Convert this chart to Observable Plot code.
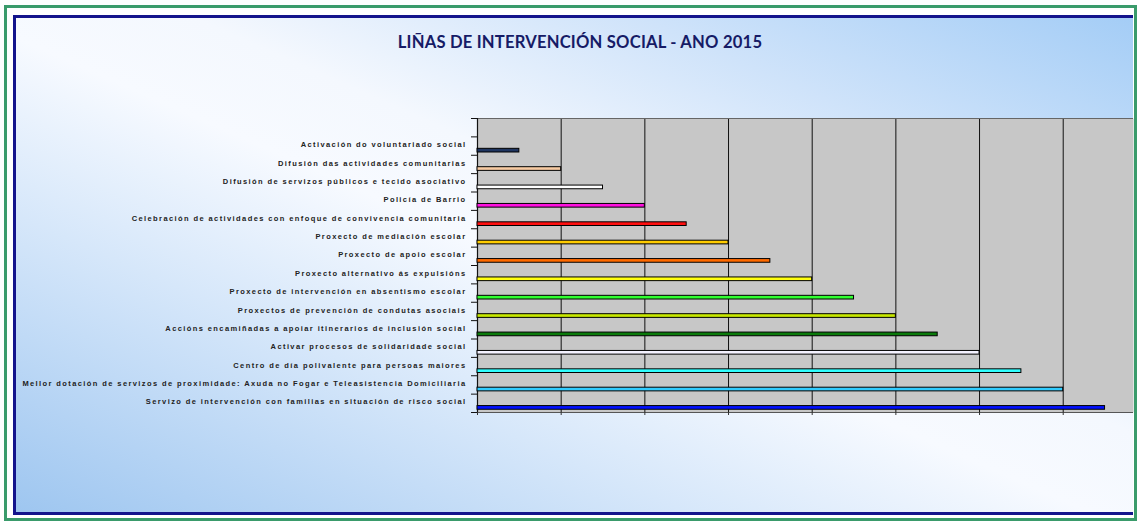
<!DOCTYPE html>
<html>
<head>
<meta charset="utf-8">
<script src="https://cdn.jsdelivr.net/npm/d3@7"></script>
<script src="https://cdn.jsdelivr.net/npm/@observablehq/plot@0.6"></script>
<style>
  html, body { margin: 0; padding: 0; background: #ffffff; }
  #wrap { position: relative; width: 1139px; height: 523px; overflow: hidden; background: #fff; }
  #green { position: absolute; left: 4px; top: 5px; width: 1127px; height: 510px; border: 3px solid #3a9b6b; }
  #inner { position: absolute; left: 13px; top: 15px; width: 1120px; height: 500px;
    border-top: 3px solid #14148c; border-left: 3px solid #14148c; border-bottom: 3px solid #14148c;
    box-sizing: border-box; overflow: hidden;
    background: linear-gradient(to top right, #9ec6f0 0%, #d6e7fa 30%, #f7faff 48%, #f4f8fe 58%, #cfe3fa 78%, #a4cdf6 100%); }
  #title { position: absolute; left: 0; width: 1160px; top: 32px; text-align: center;
    font-family: Lato, "Open Sans", sans-serif; font-weight: 700; font-size: 16.6px; color: #161b66; letter-spacing: 0.2px; }
  #chart { position: absolute; left: 0; top: 100px; }
</style>
</head>
<body>
<div id="wrap">
  <div id="green"></div>
  <div id="inner"></div>
  <div id="title">LIÑAS DE INTERVENCIÓN SOCIAL - ANO 2015</div>
  <div id="chart"></div>
</div>
<script>
const categories = [
  "Activación do voluntariado social",
  "Difusión das actividades comunitarias",
  "Difusión de servizos públicos e tecido asociativo",
  "Policía de Barrio",
  "Celebración de actividades con enfoque de convivencia comunitaria",
  "Proxecto de mediación escolar",
  "Proxecto de apoio escolar",
  "Proxecto alternativo ás expulsións",
  "Proxecto de intervención en absentismo escolar",
  "Proxectos de prevención de condutas asociais",
  "Accións encamiñadas a apoiar itinerarios de inclusión social",
  "Activar procesos de solidaridade social",
  "Centro de día polivalente para persoas maiores",
  "Mellor dotación de servizos de proximidade: Axuda no Fogar e Teleasistencia Domiciliaria",
  "Servizo de intervención con familias en situación de risco social"
];
const values = [1, 2, 3, 4, 5, 6, 7, 8, 9, 10, 11, 12, 13, 14, 15];
const colors = ["#1f3560", "#f6caa2", "#ffffff", "#ff10e0", "#ff1010", "#ffcc00", "#ff6a00", "#ffff10",
  "#30ff30", "#c8e800", "#0a7a0a", "#f4f2ff", "#30ffff", "#30ccff", "#0010ff"];
const xTicks = [0, 2, 4, 6, 8, 10, 12, 14];
const slotTicks = [0, 1, 2, 3, 4, 5, 6, 7, 8, 9, 10, 11, 12, 13, 14, 15, 16];

const rows = categories.map((c, i) => ({ name: c, value: values[i], color: colors[i], slot: i + 1 }));

const chart = Plot.plot({
  width: 1139,
  height: 322,
  marginLeft: 477,
  marginRight: 6,
  marginTop: 18,
  marginBottom: 10,
  style: { background: "transparent", overflow: "visible" },
  x: { domain: [0, 15.68], axis: null, label: null },
  y: { domain: [16, 0], axis: null, label: null },
  marks: [
    Plot.frame({ fill: "#c7c7c7", stroke: null }),
    Plot.ruleX(xTicks.filter(t => t > 0), { stroke: "#111", strokeWidth: 1 }),
    Plot.ruleY([0], { stroke: "#666", strokeWidth: 1 }),
    Plot.ruleY([16], { stroke: "#555", strokeWidth: 1 }),
    Plot.ruleX([0], { stroke: "#111", strokeWidth: 1.2 }),
    Plot.axisY({ ticks: slotTicks, tickSize: 6, tickFormat: () => "", stroke: "#111", label: null }),
    Plot.axisX({ ticks: xTicks, tickSize: 3, tickFormat: () => "", stroke: "#333", label: null }),
    Plot.rect(rows, {
      x1: 0, x2: "value",
      y1: d => d.slot + 0.65, y2: d => d.slot + 0.85,
      fill: "color", stroke: "#000", strokeWidth: 1
    }),
    Plot.text(rows, {
      x: 0, y: d => d.slot + 0.43, text: "name",
      textAnchor: "end", dx: -11,
      fontFamily: "Liberation Sans, Arial, sans-serif", fontWeight: "bold", fontSize: 7.5,
      fill: "#222"
    })
  ]
});
chart.querySelectorAll("text").forEach(t => t.style.letterSpacing = "1.4px");
document.getElementById("chart").appendChild(chart);
</script>
</body>
</html>
